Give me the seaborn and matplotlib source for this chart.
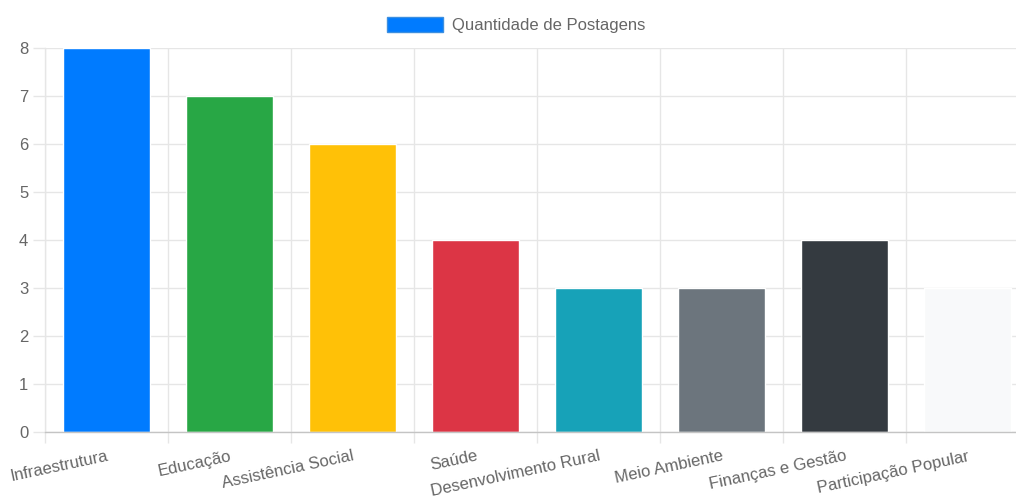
import matplotlib
matplotlib.use("Agg")
import matplotlib.pyplot as plt
import matplotlib.patches as mpatches
import seaborn as sns
import pandas as pd
import numpy as np

# data
categorias = ["Infraestrutura", "Educação", "Assistência Social", "Saúde",
              "Desenvolvimento Rural", "Meio Ambiente", "Finanças e Gestão",
              "Participação Popular"]
postagens = [8, 7, 6, 4, 3, 3, 4, 3]
cores = ["#007bff", "#28a745", "#ffc107", "#dc3545",
         "#17a2b8", "#6c757d", "#343a40", "#f8f9fa"]
serie = "Quantidade de Postagens"

df = pd.DataFrame({"categoria": categorias, "postagens": postagens})

sns.set_theme(style="white")
plt.rcParams["font.family"] = ["Liberation Sans", "DejaVu Sans"]

txt = "#666666"
grid_c = "#e6e6e6"

fig = plt.figure(figsize=(10.16, 5.04), dpi=100)
ax = fig.add_axes([45 / 1016, 72 / 504, 984 / 1016, 384.5 / 504])

sns.barplot(data=df, x="categoria", y="postagens", hue="categoria",
            palette=cores, legend=False, width=0.71, saturation=1, ax=ax)

ax.set_xlim(-0.5, len(categorias) - 0.5)
ax.set_ylim(0, 8)
ax.set_yticks(range(0, 9))
ax.set_xlabel("")
ax.set_ylabel("")

# grid lines between categories (chart.js offset style)
ax.set_xticks(np.arange(-0.5, len(categorias), 1), minor=True)
ax.grid(True, which="minor", axis="x", color=grid_c, lw=1)
ax.grid(True, which="major", axis="y", color=grid_c, lw=1)
ax.set_axisbelow(True)

ax.tick_params(axis="x", which="major", length=0, pad=12, colors=txt, labelsize=12)
ax.tick_params(axis="x", which="minor", length=8, width=1, color=grid_c, bottom=True)
ax.tick_params(axis="y", which="major", length=8.5, width=1, color=grid_c, pad=3.5,
               colors=txt, labelsize=12, left=True)
for lab in ax.get_xticklabels():
    lab.set_rotation(12)
    lab.set_ha("right")
    lab.set_va("top")
    lab.set_rotation_mode("anchor")

for s in ["top", "right"]:
    ax.spines[s].set_visible(False)
ax.spines["left"].set_color(grid_c)
ax.spines["bottom"].set_color("#c4c4c4")
ax.spines["left"].set_linewidth(1)
ax.spines["bottom"].set_linewidth(1)

handle = mpatches.Patch(facecolor=cores[0], edgecolor="#3d8fe0", lw=1, label=serie)
fig.legend(handles=[handle], loc="center", bbox_to_anchor=(0.508, 0.951),
           frameon=False, fontsize=12, labelcolor=txt,
           handlelength=3.35, handleheight=1.0, handletextpad=0.55)

fig.savefig("out.png", dpi=100)
